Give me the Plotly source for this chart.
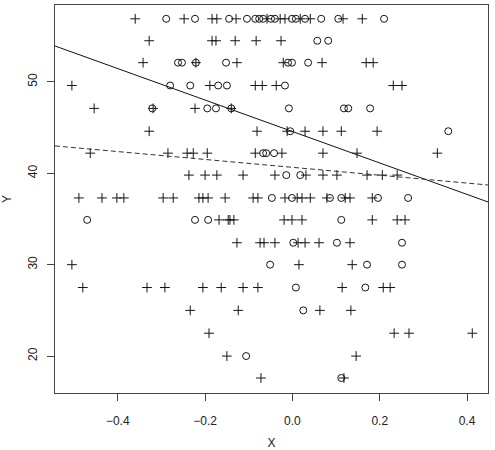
import plotly.graph_objects as go

# Y levels of the point rows (top to bottom)
y_levels = [56.9, 54.5, 52.1, 49.6, 47.1, 44.6, 42.2, 39.8, 37.3, 34.9,
            32.4, 30.0, 27.5, 25.0, 22.5, 20.0, 17.6]

# X values of "+" points, one list per Y level
plus_x = [
    [-0.360, -0.248, -0.184, -0.173, -0.129, -0.058, -0.028, -0.017, 0.018, 0.041, 0.116, 0.160],
    [-0.328, -0.184, -0.175, -0.131, -0.083, -0.026],
    [-0.342, -0.221, -0.127, -0.021, 0.068, 0.169, 0.185],
    [-0.505, -0.189, -0.085, -0.069, -0.037, 0.231, 0.251],
    [-0.454, -0.319, -0.223, -0.140],
    [-0.328, -0.081, -0.012, 0.029, 0.070, 0.112, 0.194],
    [-0.463, -0.285, -0.241, -0.227, -0.195, -0.085, -0.024, 0.070, 0.148, 0.332],
    [-0.237, -0.200, -0.173, -0.113, -0.040, 0.031, 0.070, 0.102, 0.171, 0.206, 0.240],
    [-0.489, -0.436, -0.402, -0.386, -0.296, -0.273, -0.214, -0.205, -0.193, -0.154,
     -0.090, -0.079, -0.017, 0.011, 0.022, 0.041, 0.079, 0.121, 0.132, 0.183],
    [-0.168, -0.147, -0.143, -0.134, -0.019, -0.001, 0.022, 0.183, 0.240, 0.258],
    [-0.127, -0.074, -0.065, -0.040, 0.013, 0.029, 0.061, 0.132],
    [-0.505, 0.015, 0.137],
    [-0.480, -0.333, -0.292, -0.205, -0.163, -0.113, -0.079, 0.114, 0.208, 0.224],
    [-0.234, -0.124, 0.063, 0.134],
    [-0.191, 0.233, 0.267, 0.412],
    [-0.150, 0.146],
    [-0.072, 0.118],
]

# X values of "o" points, one list per Y level
circle_x = [
    [-0.289, -0.223, -0.145, -0.104, -0.085, -0.076, -0.067, -0.049, -0.040, -0.001,
     0.008, 0.029, 0.066, 0.105, 0.210],
    [0.057, 0.082],
    [-0.262, -0.253, -0.221, -0.152, -0.010, -0.001, 0.036],
    [-0.280, -0.234, -0.170, -0.150, -0.017],
    [-0.321, -0.195, -0.175, -0.140, -0.008, 0.118, 0.128, 0.178],
    [-0.005, 0.357],
    [-0.067, -0.060, -0.042],
    [-0.014, 0.018],
    [-0.047, -0.001, 0.086, 0.112, 0.196, 0.265],
    [-0.470, -0.223, -0.193, 0.112],
    [0.002, 0.102, 0.251],
    [-0.051, 0.171, 0.251],
    [0.008, 0.167],
    [0.025],
    [],
    [-0.106],
    [0.112],
]

# Fitted lines: (intercept, slope)
solid_fit = (44.57, -17.21)
dashed_fit = (40.65, -4.31)

x_range = [-0.5437, 0.448]
y_range = [15.96, 58.41]
x_ticks = [-0.4, -0.2, 0.0, 0.2, 0.4]
x_ticktext = ["\u22120.4", "\u22120.2", "0.0", "0.2", "0.4"]
y_ticks = [20, 30, 40, 50]

px_, py_ = [], []
for y, xs in zip(y_levels, plus_x):
    px_ += xs
    py_ += [y] * len(xs)
cx_, cy_ = [], []
for y, xs in zip(y_levels, circle_x):
    cx_ += xs
    cy_ += [y] * len(xs)

ink = "#151515"
fig = go.Figure()
fig.add_trace(go.Scatter(x=px_, y=py_, mode="markers",
                         marker=dict(symbol="cross-thin-open", size=7, color=ink,
                                     line=dict(color=ink, width=1)),
                         showlegend=False))
fig.add_trace(go.Scatter(x=cx_, y=cy_, mode="markers",
                         marker=dict(symbol="circle-open", size=7, color=ink,
                                     line=dict(color=ink, width=1)),
                         showlegend=False))
for (a, b), dash, col in [(solid_fit, "solid", "#111111"), (dashed_fit, "5px,3px", "#333333")]:
    fig.add_trace(go.Scatter(x=x_range, y=[a + b * x_range[0], a + b * x_range[1]],
                             mode="lines", line=dict(color=col, width=1, dash=dash),
                             showlegend=False))

font = dict(family="Liberation Sans", size=12, color="#222222")
axis_common = dict(showline=True, mirror=True, linecolor="#444444", linewidth=1,
                   ticks="outside", ticklen=7, tickcolor="#444444", showgrid=False,
                   zeroline=False, tickfont=font, automargin=False)
fig.update_xaxes(range=x_range, tickvals=x_ticks, ticktext=x_ticktext,
                 ticklabelstandoff=10,
                 title=dict(text="X", standoff=18, font=font),
                 **axis_common)
fig.update_yaxes(range=y_range, tickvals=y_ticks, tickangle=-90,
                 ticklabelstandoff=5,
                 title=dict(text="Y", standoff=14, font=font),
                 **axis_common)
fig.update_layout(width=495, height=450, margin=dict(l=55, r=7, t=5, b=57),
                  plot_bgcolor="white", paper_bgcolor="white")
fig.write_html("out.html")
